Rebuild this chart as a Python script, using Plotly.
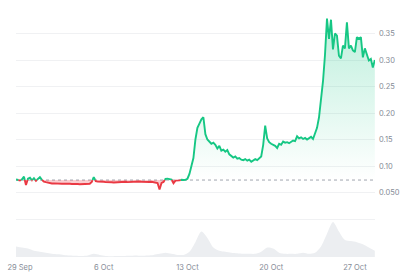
import numpy as np
import pandas as pd
import plotly.graph_objects as go

# ---- data ----
start_time = "2024-09-28 16:00"
price_step_hours = 4
prices = [
    0.0745, 0.0738, 0.0725, 0.0750, 0.0800, 0.0640, 0.0760, 0.0780, 0.0730, 0.0770,
    0.0720, 0.0755, 0.0790, 0.0738, 0.0705, 0.0695, 0.0685, 0.0675, 0.0670, 0.0672,
    0.0668, 0.0674, 0.0670, 0.0665, 0.0668, 0.0662, 0.0666, 0.0664, 0.0660, 0.0663,
    0.0658, 0.0661, 0.0657, 0.0660, 0.0656, 0.0660, 0.0662, 0.0665, 0.0700, 0.0790,
    0.0715, 0.0705, 0.0708, 0.0700, 0.0703, 0.0695, 0.0698, 0.0690, 0.0694, 0.0688,
    0.0692, 0.0697, 0.0700, 0.0705, 0.0698, 0.0702, 0.0696, 0.0700, 0.0704, 0.0699,
    0.0706, 0.0702, 0.0708, 0.0703, 0.0699, 0.0705, 0.0701, 0.0697, 0.0703, 0.0698,
    0.0690, 0.0680, 0.0555, 0.0680, 0.0700, 0.0755, 0.0762, 0.0758, 0.0745, 0.0675,
    0.0725, 0.0720, 0.0728, 0.0740, 0.0736, 0.0738, 0.0760, 0.0850, 0.1000, 0.1150,
    0.1500, 0.1720, 0.1800, 0.1880, 0.1920, 0.1600, 0.1500, 0.1460, 0.1420, 0.1440,
    0.1400, 0.1330, 0.1380, 0.1290, 0.1310, 0.1270, 0.1300, 0.1220, 0.1190, 0.1160,
    0.1180, 0.1140, 0.1150, 0.1120, 0.1110, 0.1130, 0.1100, 0.1120, 0.1080, 0.1100,
    0.1130, 0.1110, 0.1140, 0.1180, 0.1400, 0.1760, 0.1520, 0.1450, 0.1420, 0.1400,
    0.1380, 0.1340, 0.1420, 0.1400, 0.1460, 0.1440, 0.1450, 0.1430, 0.1460, 0.1480,
    0.1470, 0.1560, 0.1520, 0.1540, 0.1510, 0.1530, 0.1500, 0.1520, 0.1550, 0.1510,
    0.1600, 0.1720, 0.1920, 0.2250, 0.2600, 0.3100, 0.3780, 0.3400, 0.3760, 0.3200,
    0.3500, 0.3460, 0.3080, 0.3030, 0.3270, 0.3220, 0.3710, 0.3220, 0.3270, 0.3180,
    0.3150, 0.3430, 0.3400, 0.3430, 0.3050, 0.3220, 0.3090, 0.2990, 0.3020, 0.2860,
    0.3000,
]
baseline_price = 0.0735

volume_step_hours = 12
volumes = [
    10, 9, 8, 6, 5, 4, 3, 2.5, 2, 1.5, 1.2, 1, 1.5, 3, 2, 1, 0.8, 1, 1, 1.2,
    1.5, 1.2, 1.5, 2, 3, 4, 3, 2, 2, 5, 14, 24, 18, 9, 6, 5, 4, 3.5, 3, 3,
    3, 5, 9, 8, 4, 3, 3, 3, 4, 3, 4, 10, 22, 33, 24, 16, 15, 14, 12, 9, 6,
]

x_tick_dates = ["2024-09-29", "2024-10-06", "2024-10-13", "2024-10-20", "2024-10-27"]
x_tick_labels = ["29 Sep", "6 Oct", "13 Oct", "20 Oct", "27 Oct"]
y_tick_values = [0.0, 0.05, 0.10, 0.15, 0.20, 0.25, 0.30, 0.35, 0.40]
y_tick_labels = ["", "0.050", "0.10", "0.15", "0.20", "0.25", "0.30", "0.35", ""]

GREEN = "#16c784"
RED = "#ea3943"

# ---- build series ----
t0 = pd.Timestamp(start_time)
p_times = [t0 + pd.Timedelta(hours=price_step_hours * i) for i in range(len(prices))]
v_times = [t0 + pd.Timedelta(hours=volume_step_hours * i) for i in range(len(volumes))]

# augment with baseline crossing points so colours switch exactly at the baseline
aug_t, aug_p = [], []
for i in range(len(prices)):
    aug_t.append(p_times[i])
    aug_p.append(prices[i])
    if i + 1 < len(prices):
        a, b = prices[i] - baseline_price, prices[i + 1] - baseline_price
        if a * b < 0:
            f = a / (a - b)
            aug_t.append(p_times[i] + (p_times[i + 1] - p_times[i]) * f)
            aug_p.append(baseline_price)

aug_p = np.array(aug_p)
base_arr = np.full(len(aug_p), baseline_price)
upper = np.maximum(aug_p, baseline_price)
lower = np.minimum(aug_p, baseline_price)
green_line = [p if p >= baseline_price else None for p in aug_p]
red_line = [p if p <= baseline_price else None for p in aug_p]

fig = go.Figure()

# volume (secondary axis, bottom band)
fig.add_trace(go.Scatter(
    x=v_times, y=volumes, yaxis="y2", mode="lines",
    line=dict(width=0, shape="spline", smoothing=0.8),
    fill="tozeroy", fillcolor="#eceef1", hoverinfo="skip",
))

# baseline dotted
fig.add_trace(go.Scatter(
    x=[aug_t[0], aug_t[-1]], y=[baseline_price, baseline_price], mode="lines",
    line=dict(color="#a0a6ae", width=1, dash="dot"), hoverinfo="skip",
))

# green fill
fig.add_trace(go.Scatter(x=aug_t, y=base_arr, mode="lines", line=dict(width=0), hoverinfo="skip"))
fig.add_trace(go.Scatter(
    x=aug_t, y=upper, mode="lines", line=dict(width=0), fill="tonexty",
    fillgradient=dict(type="vertical", start=baseline_price, stop=max(prices),
                      colorscale=[[0, "rgba(22,199,132,0.0)"], [1, "rgba(22,199,132,0.28)"]]),
    hoverinfo="skip",
))
# red fill
fig.add_trace(go.Scatter(x=aug_t, y=base_arr, mode="lines", line=dict(width=0), hoverinfo="skip"))
fig.add_trace(go.Scatter(
    x=aug_t, y=lower, mode="lines", line=dict(width=0), fill="tonexty",
    fillcolor="rgba(234,57,67,0.25)", hoverinfo="skip",
))

# lines
fig.add_trace(go.Scatter(x=aug_t, y=green_line, mode="lines",
                         line=dict(color=GREEN, width=1.9), connectgaps=False))
fig.add_trace(go.Scatter(x=aug_t, y=red_line, mode="lines",
                         line=dict(color=RED, width=1.9), connectgaps=False))

fig.update_layout(
    width=420, height=280,
    margin=dict(l=16, r=45, t=7, b=23),
    paper_bgcolor="white", plot_bgcolor="white",
    showlegend=False,
    font=dict(family="Inter, Roboto, sans-serif", size=7.5, color="#858b96"),
    xaxis=dict(
        range=[pd.Timestamp("2024-09-28 16:00"), pd.Timestamp("2024-10-28 16:20")],
        tickvals=[pd.Timestamp(d) for d in x_tick_dates], ticktext=x_tick_labels,
        showgrid=False, zeroline=False, showline=False, ticks="",
        ticklabelstandoff=4,
    ),
    yaxis=dict(
        range=[-0.0717, 0.40], side="right",
        tickvals=y_tick_values, ticktext=y_tick_labels,
        showgrid=True, gridcolor="#f0f1f3", gridwidth=1,
        zeroline=False, showline=False, ticks="",
        ticklabelstandoff=3,
    ),
    yaxis2=dict(
        overlaying="y", range=[0, 236], visible=False, showgrid=False,
    ),
)

fig.write_html("out.html")
